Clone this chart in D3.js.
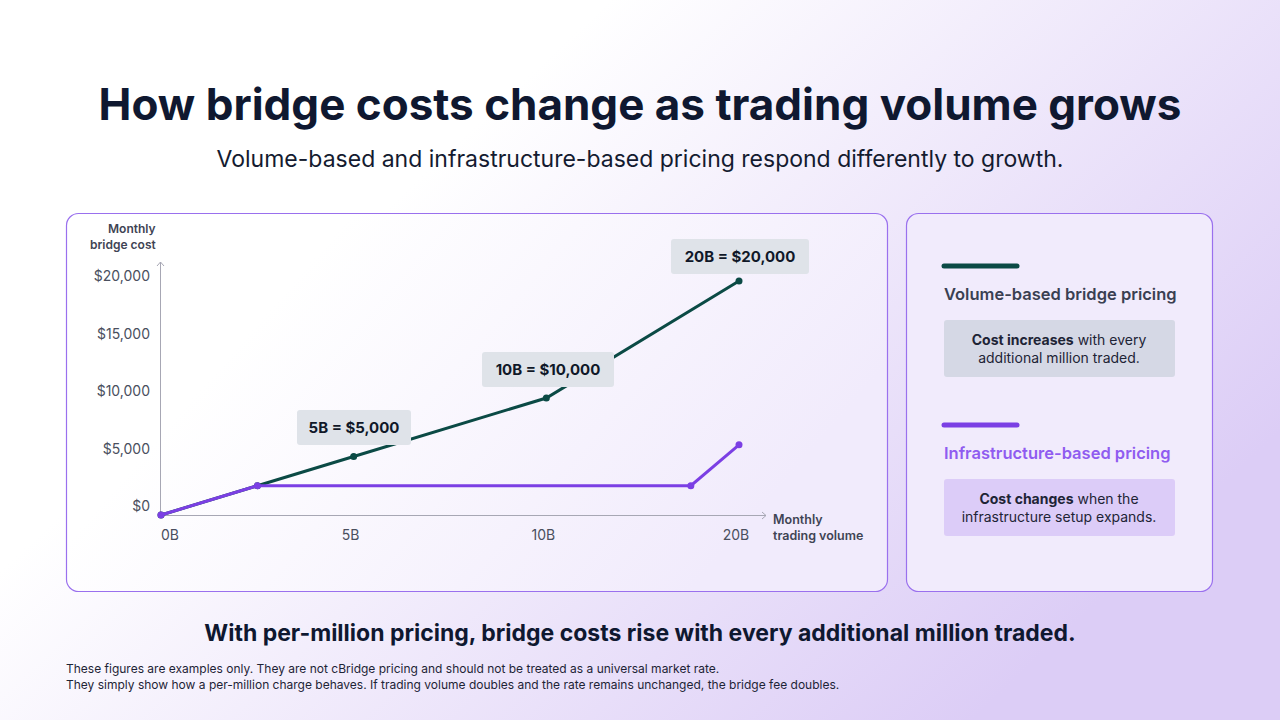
<!DOCTYPE html>
<html><head><meta charset="utf-8">
<script src="https://cdn.jsdelivr.net/npm/d3@7"></script>
<style>body{margin:0;font-family:Inter,"Noto Sans",sans-serif}</style>
</head><body>
<script>
// data
var xTicks = ["0B", "5B", "10B", "20B"];
var yTicks = [0, 5000, 10000, 15000, 20000];
// x is the tick position (0B, 5B, 10B, 20B are evenly spaced)
var volumePos = [0, 0.5, 1, 2, 3];
var volumeCost = [0, 2500, 5000, 10000, 20000];
var infraPos = [0, 0.5, 2.75, 3];
var infraCost = [0, 2500, 2500, 6000];
var callouts = [
  {i: 2, text: "5B = $5,000"},
  {i: 3, text: "10B = $10,000"},
  {i: 4, text: "20B = $20,000"}
];

var W = 1280, H = 720;
var svg = d3.select("body").append("svg").attr("width", W).attr("height", H);
var defs = svg.append("defs");
var bg = defs.append("linearGradient").attr("id", "bg").attr("x1", 0).attr("y1", 0).attr("x2", 1).attr("y2", 0.6);
bg.append("stop").attr("offset", "0.35").attr("stop-color", "#ffffff");
bg.append("stop").attr("offset", "1").attr("stop-color", "#dccdf6");
var pg = defs.append("linearGradient").attr("id", "pg").attr("x1", 0).attr("y1", 0).attr("x2", 1).attr("y2", 0.4);
pg.append("stop").attr("offset", "0.3").attr("stop-color", "#ffffff");
pg.append("stop").attr("offset", "1").attr("stop-color", "#f1ebfc");
svg.append("rect").attr("width", W).attr("height", H).attr("fill", "url(#bg)");

svg.append("text").attr("x", 640).attr("y", 120).attr("text-anchor", "middle")
  .attr("font-size", 44).attr("font-weight", 700).attr("fill", "#0f1830")
  .text("How bridge costs change as trading volume grows");
svg.append("text").attr("x", 640).attr("y", 167).attr("text-anchor", "middle")
  .attr("font-size", 23).attr("fill", "#141b30")
  .text("Volume-based and infrastructure-based pricing respond differently to growth.");

// panels
svg.append("rect").attr("x", 66.5).attr("y", 213.5).attr("width", 821).attr("height", 378).attr("rx", 12)
  .attr("fill", "url(#pg)").attr("stroke", "#9a70ee").attr("stroke-width", 1.2);
svg.append("rect").attr("x", 906.5).attr("y", 213.5).attr("width", 306).attr("height", 378).attr("rx", 12)
  .attr("fill", "#f1ebfc").attr("stroke", "#9a70ee").attr("stroke-width", 1.2);

var x = d3.scaleLinear().domain([0, 3]).range([161, 739]);
var y = d3.scaleLinear().domain([0, 20000]).range([515, 281]);
var g = svg.append("g");

// axes
g.append("line").attr("x1", 161).attr("x2", 766).attr("y1", 515.5).attr("y2", 515.5).attr("stroke", "#a7a7b4");
g.append("path").attr("d", "M762,512L766,515.5L762,519").attr("fill", "none").attr("stroke", "#a7a7b4");
g.append("line").attr("x1", 160.5).attr("x2", 160.5).attr("y1", 262).attr("y2", 515).attr("stroke", "#a7a7b4");
g.append("path").attr("d", "M157,266L160.5,262L164,266").attr("fill", "none").attr("stroke", "#a7a7b4");

g.selectAll(".yt").data(yTicks).enter().append("text")
  .attr("x", 150).attr("y", function(d){ return y(d) - 4 * (1 - d / 20000); }).attr("text-anchor", "end")
  .attr("font-size", 14).attr("fill", "#4a4f5e")
  .text(function(d){ return "$" + d3.format(",")(d); });
g.selectAll(".xt").data(xTicks).enter().append("text")
  .attr("x", function(d, i){ return x(i) + (i === 0 ? 9 : -3); }).attr("y", 540).attr("text-anchor", "middle")
  .attr("font-size", 14).attr("fill", "#4a4f5e").text(function(d){ return d; });

g.append("text").attr("x", 108).attr("y", 233).attr("font-size", 12).attr("font-weight", 600).attr("fill", "#3f4454").text("Monthly");
g.append("text").attr("x", 90).attr("y", 249).attr("font-size", 12).attr("font-weight", 600).attr("fill", "#3f4454").text("bridge cost");
g.append("text").attr("x", 773).attr("y", 524).attr("font-size", 12.5).attr("font-weight", 600).attr("fill", "#3f4454").text("Monthly");
g.append("text").attr("x", 773).attr("y", 540).attr("font-size", 12.5).attr("font-weight", 600).attr("fill", "#3f4454").text("trading volume");

var line = d3.line().x(function(d){ return x(d[0]); }).y(function(d){ return y(d[1]); });
var vol = d3.zip(volumePos, volumeCost);
var inf = d3.zip(infraPos, infraCost);
g.append("path").attr("d", line(vol)).attr("fill", "none").attr("stroke", "#0b4a45").attr("stroke-width", 3);
g.selectAll(".vd").data(vol).enter().append("circle")
  .attr("cx", function(d){ return x(d[0]); }).attr("cy", function(d){ return y(d[1]); }).attr("r", 3.5).attr("fill", "#0b4a45");
g.append("path").attr("d", line(inf)).attr("fill", "none").attr("stroke", "#7b3fe4").attr("stroke-width", 3);
g.selectAll(".id").data(inf).enter().append("circle")
  .attr("cx", function(d){ return x(d[0]); }).attr("cy", function(d){ return y(d[1]); }).attr("r", 3.5).attr("fill", "#7b3fe4");

// callouts
var cw = [114, 132, 138];
var cbx = [297, 482, 671];
var cby = [410, 352, 239];
callouts.forEach(function(c, k){
  g.append("rect").attr("x", cbx[k]).attr("y", cby[k]).attr("width", cw[k]).attr("height", 35).attr("rx", 3).attr("fill", "#dfe3e9");
  g.append("text").attr("x", cbx[k] + cw[k] / 2).attr("y", cby[k] + 23).attr("text-anchor", "middle")
    .attr("font-size", 15).attr("font-weight", 700).attr("fill", "#101828").text(c.text);
});

// legend panel
var legend = [
  {y: 266, color: "#0b4a45", title: "Volume-based bridge pricing", tcolor: "#3a3f52", box: "#d5d8e5",
   bold: "Cost increases", rest: " with every", line2: "additional million traded."},
  {y: 425, color: "#7b3fe4", title: "Infrastructure-based pricing", tcolor: "#8f5cf0", box: "#dcccf8",
   bold: "Cost changes", rest: " when the", line2: "infrastructure setup expands."}
];
legend.forEach(function(l){
  svg.append("line").attr("x1", 944).attr("x2", 1017).attr("y1", l.y).attr("y2", l.y)
    .attr("stroke", l.color).attr("stroke-width", 5).attr("stroke-linecap", "round");
  svg.append("text").attr("x", 944).attr("y", l.y + 34).attr("font-size", 16.5).attr("font-weight", 600)
    .attr("fill", l.tcolor).text(l.title);
  svg.append("rect").attr("x", 944).attr("y", l.y + 54).attr("width", 231).attr("height", 57).attr("rx", 3).attr("fill", l.box);
  var t = svg.append("text").attr("x", 1059).attr("y", l.y + 79).attr("text-anchor", "middle").attr("font-size", 14).attr("fill", "#1e2436");
  t.append("tspan").attr("font-weight", 700).text(l.bold);
  t.append("tspan").text(l.rest);
  svg.append("text").attr("x", 1059).attr("y", l.y + 97).attr("text-anchor", "middle").attr("font-size", 14).attr("fill", "#1e2436").text(l.line2);
});

svg.append("text").attr("x", 640).attr("y", 641).attr("text-anchor", "middle").attr("font-size", 23).attr("font-weight", 700)
  .attr("fill", "#0f1830").text("With per-million pricing, bridge costs rise with every additional million traded.");
svg.append("text").attr("x", 66).attr("y", 673).attr("font-size", 12).attr("fill", "#1e2436")
  .text("These figures are examples only. They are not cBridge pricing and should not be treated as a universal market rate.");
svg.append("text").attr("x", 66).attr("y", 689).attr("font-size", 12).attr("fill", "#1e2436")
  .text("They simply show how a per-million charge behaves. If trading volume doubles and the rate remains unchanged, the bridge fee doubles.");
</script>
</body></html>
